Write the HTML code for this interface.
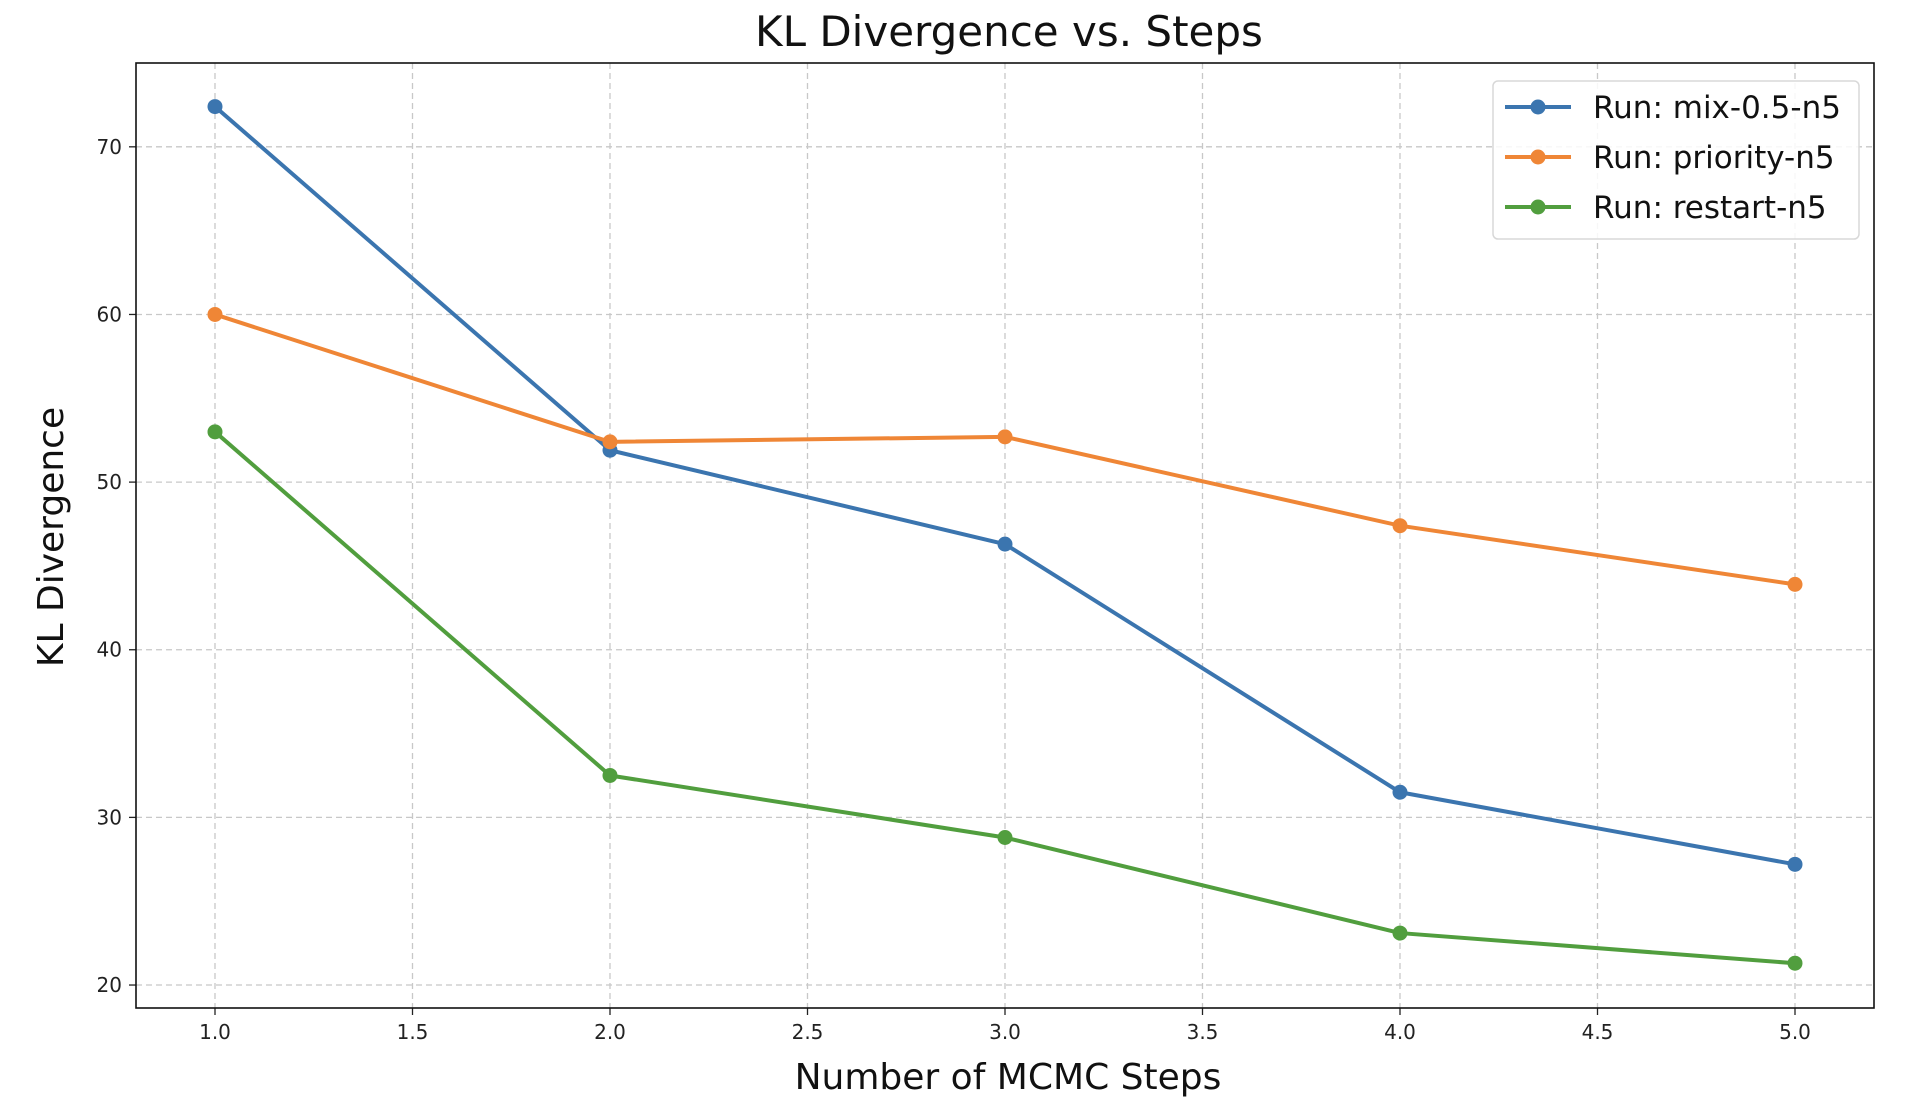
<!DOCTYPE html>
<html><head><meta charset="utf-8"><style>
body{margin:0;background:#fff;}
svg{display:block;font-family:"DejaVu Sans","Liberation Sans",sans-serif;}
</style></head><body>
<svg id="chart" width="1914" height="1114">
<rect width="1914" height="1114" fill="#fff"/>
<g id="grid"></g><g id="series"></g><g id="axes"></g>
<text x="1009" y="46" text-anchor="middle" font-size="42" fill="#111">KL Divergence vs. Steps</text>
<text x="1008" y="1089" text-anchor="middle" font-size="36" fill="#111">Number of MCMC Steps</text>
<text transform="translate(63,537) rotate(-90)" text-anchor="middle" font-size="36" fill="#111">KL Divergence</text>
<g id="legend"></g>
</svg>
<script>
const steps = [1, 2, 3, 4, 5];
const mixValues = [72.4, 51.9, 46.3, 31.5, 27.2];
const priorityValues = [60.0, 52.4, 52.7, 47.4, 43.9];
const restartValues = [53.0, 32.5, 28.8, 23.1, 21.3];
const seriesNames = ["Run: mix-0.5-n5", "Run: priority-n5", "Run: restart-n5"];
const xTicks = [1.0, 1.5, 2.0, 2.5, 3.0, 3.5, 4.0, 4.5, 5.0];
const yTicks = [20, 30, 40, 50, 60, 70];

const NS = "http://www.w3.org/2000/svg";
const L = 136, R = 1874, T = 63, B = 1008;
const xMin = 0.8, xMax = 5.2, yMin = 18.63, yMax = 75.0;
const xs = v => L + (v - xMin) / (xMax - xMin) * (R - L);
const ys = v => B - (v - yMin) / (yMax - yMin) * (B - T);
function mk(tag, attrs, parent) {
  const e = document.createElementNS(NS, tag);
  for (const k in attrs) e.setAttribute(k, attrs[k]);
  parent.appendChild(e); return e;
}
const grid = document.getElementById('grid'), axes = document.getElementById('axes'), ser = document.getElementById('series');
xTicks.forEach(t => {
  const x = xs(t);
  const g = mk('line', {x1:x, x2:x, y1:T, y2:B, stroke:'#c8c8c8', 'stroke-width':1.3, 'stroke-dasharray':'6,4'}, grid);
  
  
  mk('line', {x1:x, x2:x, y1:B, y2:B+7, stroke:'#222', 'stroke-width':1.3}, axes);
  const tx = mk('text', {x:x, y:B+31, 'text-anchor':'middle', 'font-size':20, fill:'#222'}, axes);
  tx.textContent = t.toFixed(1);
  
  
});
yTicks.forEach(t => {
  const y = ys(t);
  const g = mk('line', {x1:L, x2:R, y1:y, y2:y, stroke:'#c8c8c8', 'stroke-width':1.3, 'stroke-dasharray':'6,4'}, grid);
  
  
  mk('line', {x1:L-7, x2:L, y1:y, y2:y, stroke:'#222', 'stroke-width':1.3}, axes);
  const tx = mk('text', {x:L-14, y:y+7, 'text-anchor':'end', 'font-size':20, fill:'#222'}, axes);
  tx.textContent = t;
  
  
});
const frame = mk('rect', {x:L, y:T, width:R-L, height:B-T, fill:'none', stroke:'#111', 'stroke-width':1.6}, axes);



const colors = ['#3b75af', '#ef8636', '#519e3e'];
const allSeries = [mixValues, priorityValues, restartValues];
const keys = ['mix', 'priority', 'restart'];
allSeries.forEach((vals, i) => {
  const pts = vals.map((v, j) => xs(steps[j]) + ',' + ys(v)).join(' ');
  const pl = mk('polyline', {points:pts, fill:'none', stroke:colors[i], 'stroke-width':4, 'stroke-linejoin':'round'}, ser);
  
  
  vals.forEach((v, j) => {
    const c = mk('circle', {cx:xs(steps[j]), cy:ys(v), r:7.5, fill:colors[i]}, ser);
    
    
  });
});
const lg = document.getElementById('legend');
const box = mk('rect', {x:1493, y:81, width:366, height:158, rx:5, fill:'#fff', 'fill-opacity':0.85, stroke:'#d8d8d8', 'stroke-width':1.5}, lg);


seriesNames.forEach((n, i) => {
  const y = 107 + i * 50;
  const ln = mk('line', {x1:1505, x2:1571, y1:y, y2:y, stroke:colors[i], 'stroke-width':4}, lg);
  
  
  mk('circle', {cx:1538, cy:y, r:7.5, fill:colors[i]}, lg);
  const tx = mk('text', {x:1593, y:y+11, 'font-size':31, fill:'#111'}, lg);
  tx.textContent = n;
  
  
});
</script>
</body></html>
